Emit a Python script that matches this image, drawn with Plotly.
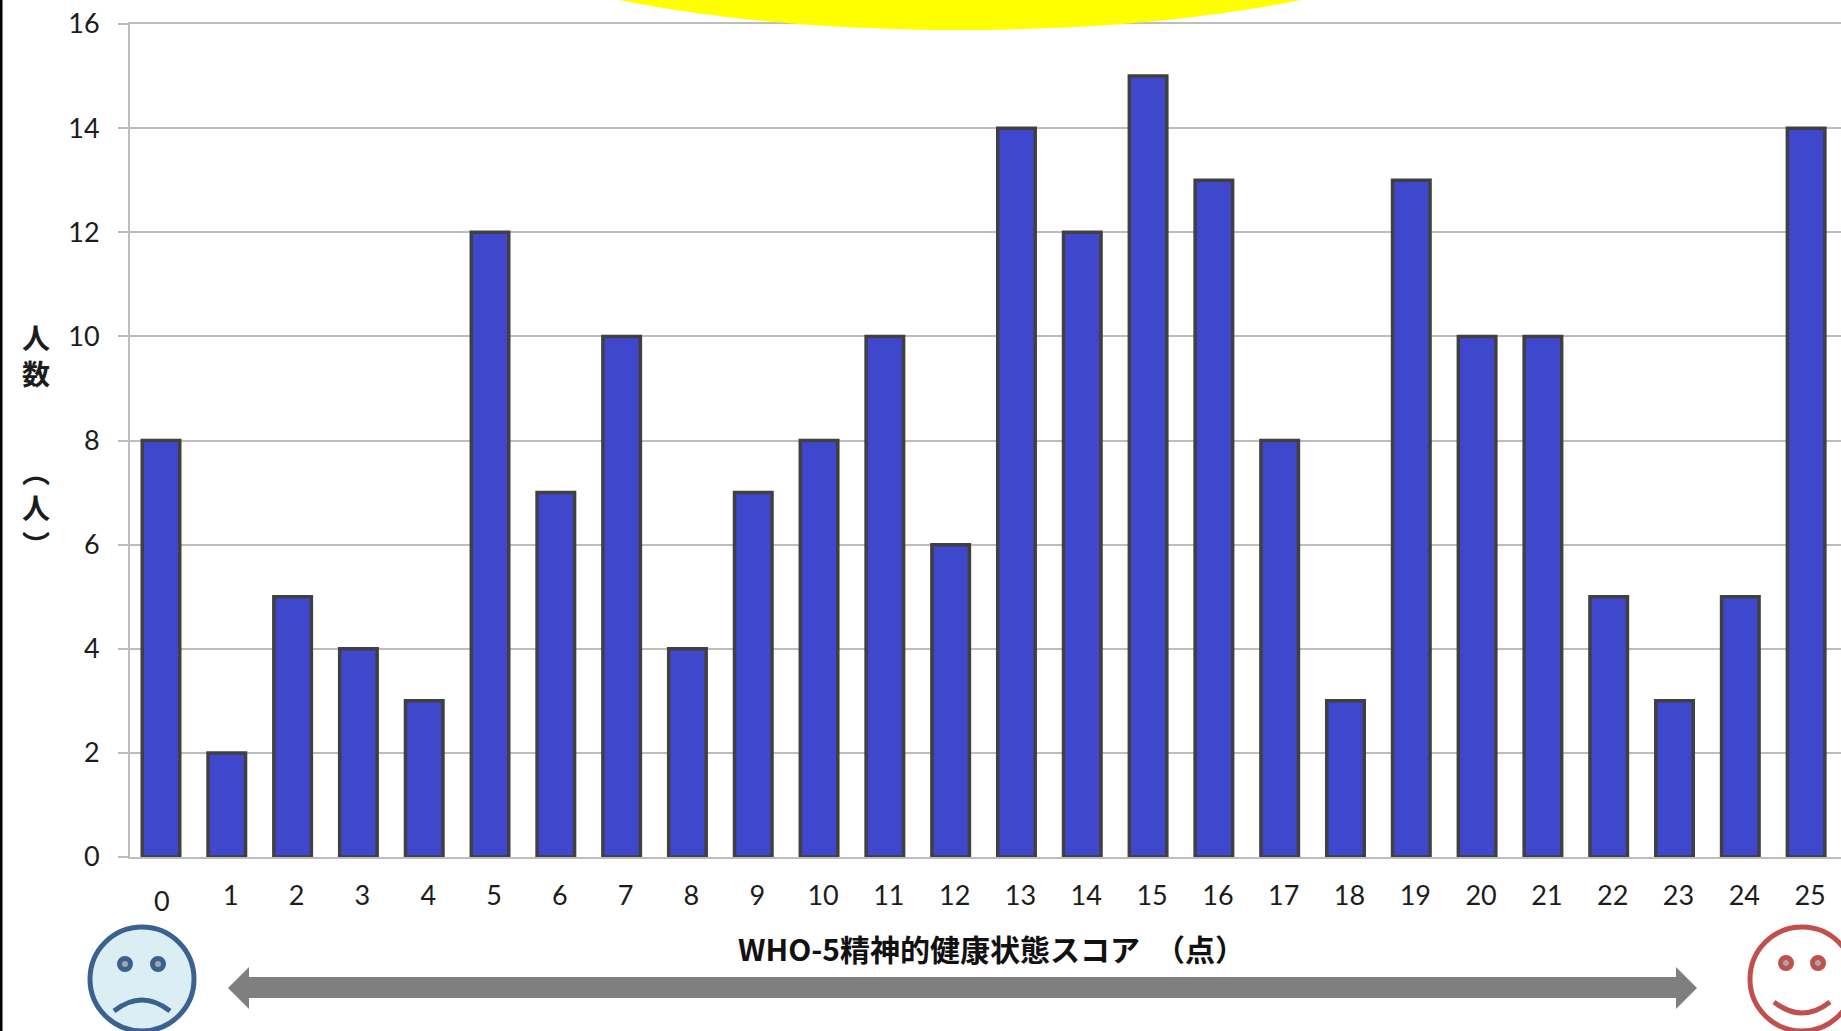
import plotly.graph_objects as go

# Histogram data: number of people per WHO-5 score
scores = list(range(26))
people = [8, 2, 5, 4, 3, 12, 7, 10, 4, 7, 8, 10, 6, 14, 12, 15, 13, 8, 3, 13, 10, 10, 5, 3, 5, 14]
y_ticks = [0, 2, 4, 6, 8, 10, 12, 14, 16]
x_title = "WHO-5精神的健康状態スコア　（点）"
y_title_count = "人<br>数"
y_title_unit = "︵<br>人<br>︶"

W, H = 1841, 1031
LEFT, RIGHT, TOP, BOTTOM = 130, 1841, 24, 857
LATIN = "Lato, 'Noto Sans CJK JP', sans-serif"
CJK = "'Noto Sans CJK JP', sans-serif"
GRID = "#bdbdbd"
INK = "#1c1c1c"

fig = go.Figure()
fig.add_trace(go.Bar(
    x=scores, y=people, width=0.57,
    marker=dict(color="#3f48cc", line=dict(color="#404040", width=3.5)),
    hoverinfo="skip", showlegend=False,
))
# Invisible trace that brings the pixel-scaled overlay axes into being
fig.add_trace(go.Scatter(x=[None], y=[None], xaxis="x2", yaxis="y2", showlegend=False, hoverinfo="skip"))


def shape(kind, **kw):
    fig.add_shape(type=kind, xref="x2", yref="y2", layer="above", **kw)


def face(cx, cy, r, stroke, fill, eyes, mouth):
    shape("circle", x0=cx - r, x1=cx + r, y0=cy - r, y1=cy + r,
          line=dict(color=stroke, width=5), fillcolor=fill)
    for ex, ey in eyes:
        shape("circle", x0=ex - 5.5, x1=ex + 5.5, y0=ey - 5.5, y1=ey + 5.5,
              line=dict(color=stroke, width=5), fillcolor="#a6a6a6")
    shape("path", path=mouth, line=dict(color=stroke, width=5))


# Page edge, highlight ellipse and the two faces with the arrow between them
shape("rect", x0=0, x1=2.5, y0=0, y1=H, fillcolor="#000000", line_width=0)
shape("circle", x0=460, x1=1460, y0=-194, y1=30, fillcolor="#ffff00", line_width=0)
face(142, 979, 52, "#3a6190", "#dbeef4", [(125, 964), (158, 964)],
     "M 114 1011 Q 142 989 170 1011")
face(1802, 979, 52, "#c0504d", "#ffffff", [(1786, 963), (1818, 963)],
     "M 1774 1002 Q 1802 1024 1830 1002")
shape("path",
      path="M 228 988 L 249 967 L 249 977 L 1676 977 L 1676 967 L 1697 988 "
           "L 1676 1009 L 1676 998 L 249 998 L 249 1009 Z",
      fillcolor="#7f7f7f", line_width=0)

# The lowest score sits a little below the other axis labels
fig.add_annotation(x=0, xref="x", y=900, yref="y2", text="0", showarrow=False,
                   xshift=1, font=dict(family=LATIN, size=27, color=INK))
fig.add_annotation(x=991, xref="x2", y=948, yref="y2", text=x_title, showarrow=False,
                   font=dict(family=CJK, size=30, color="#111111", weight="bold"))
fig.add_annotation(x=36, xref="x2", y=355, yref="y2", text=y_title_count, showarrow=False,
                   font=dict(family=CJK, size=28, color=INK, weight="bold"))
fig.add_annotation(x=36, xref="x2", y=507, yref="y2", text=y_title_unit, showarrow=False,
                   font=dict(family=CJK, size=28, color=INK, weight="bold"))

fig.update_layout(
    width=W, height=H, margin=dict(l=0, r=0, t=0, b=0),
    plot_bgcolor="rgba(0,0,0,0)", paper_bgcolor="#ffffff", bargap=0.4,
    xaxis=dict(
        domain=[LEFT / W, RIGHT / W], range=[-0.471, 25.53], anchor="y",
        tickvals=scores[1:], ticktext=[str(s) for s in scores[1:]],
        tickfont=dict(family=LATIN, size=27, color=INK),
        ticks="", ticklabelstandoff=14, ticklabelshift=4,
        showgrid=False, zeroline=False, showline=True, mirror=True,
        linecolor=GRID, linewidth=2, automargin=False,
    ),
    yaxis=dict(
        domain=[1 - BOTTOM / H, 1 - TOP / H], range=[0, 16], anchor="x",
        tickvals=y_ticks, tickfont=dict(family=LATIN, size=27, color=INK),
        gridcolor=GRID, gridwidth=2, showgrid=True, zeroline=False,
        showline=True, linecolor=GRID, linewidth=2,
        ticks="outside", ticklen=10, tickcolor=GRID, tickwidth=2,
        ticklabelstandoff=13, automargin=False,
    ),
    xaxis2=dict(domain=[0, 1], range=[0, W], visible=False, anchor="y2"),
    yaxis2=dict(domain=[0, 1], range=[H, 0], visible=False, anchor="x2"),
)

fig.write_html("out.html", config={"displayModeBar": False})
